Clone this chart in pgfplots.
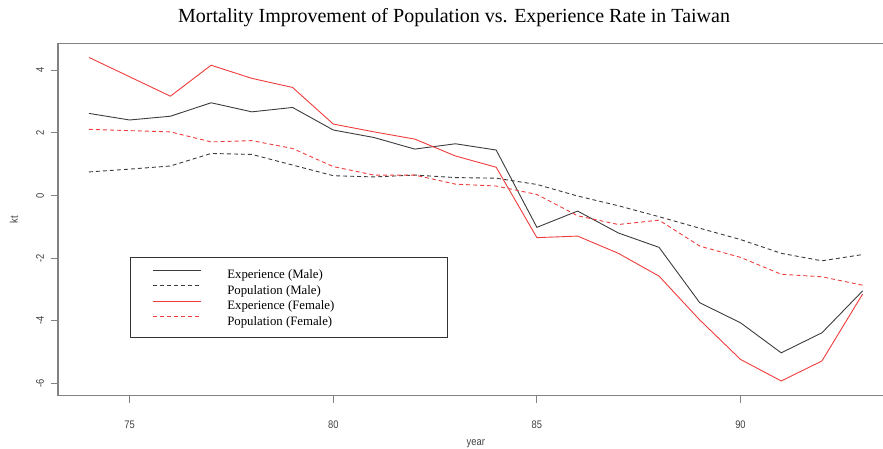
\documentclass[border=0pt]{standalone}
\usepackage{pgfplots}
\pgfplotsset{compat=1.18}
\usepackage{fontspec}
\setmainfont{Liberation Serif}
\newfontfamily\axfont[FakeStretch=0.85]{Liberation Sans}
\definecolor{axgray}{RGB}{130,130,130}
\definecolor{blk}{RGB}{60,60,60}
\definecolor{rd}{RGB}{240,60,60}
\begin{document}
\begin{tikzpicture}
\useasboundingbox (0,0) rectangle (883pt,448pt);
\clip (0,0) rectangle (883pt,448pt);
\begin{axis}[
  scale only axis,
  width=835.6pt, height=352.4pt,
  at={(58pt,52.3pt)}, anchor=south west,
  xmin=73.24, xmax=93.76,
  ymin=-6.40, ymax=4.86,
  xtick={75,80,85,90}, ytick={-6,-4,-2,0,2,4},
  xtick pos=bottom, ytick pos=left,
  tick align=outside, major tick length=7pt,
  axis line style={axgray, line width=1.5pt},
  tick style={axgray, line width=1pt},
  /pgf/number format/assume math mode=true,
  ticklabel style={font=\axfont\fontsize{11}{12}\selectfont, text=black!75},
  xticklabel style={anchor=center, yshift=-22pt},
  yticklabel style={rotate=90, anchor=center, yshift=11pt},
  xlabel={year}, ylabel={kt},
  label style={font=\axfont\fontsize{11}{12}\selectfont, text=black!75},
  xlabel style={at={(axis description cs:0.5,-0.137)}, anchor=center},
  ylabel style={at={(axis description cs:-0.0527,0.5)}, anchor=center, rotate=0},
  title={Mortality Improvement of Population vs. Experience Rate in Taiwan},
  title style={font=\fontsize{20}{22}\selectfont, at={(axis description cs:0.474,1.0548)}, anchor=center},
  legend style={at={(axis description cs:0.0862,0.393)}, anchor=north west,
    draw=black!80, line width=0.8pt, inner xsep=22pt, inner ysep=9pt,
    font=\fontsize{12.8}{14}\selectfont,
    nodes={inner sep=0pt, text height=12pt, text depth=3.5pt},
    /tikz/every odd column/.append style={column sep=26pt}},
  legend cell align=left,
  legend image code/.code={\draw[#1] (0pt,4pt) -- (48pt,4pt);},
]
\addplot[blk, line width=0.9pt] coordinates {
(74,2.62) (75,2.41) (76,2.53) (77,2.96) (78,2.67) (79,2.81) (80,2.09) (81,1.85) (82,1.48) (83,1.65)
(84,1.45) (85,-1.02) (86,-0.50) (87,-1.20) (88,-1.66) (89,-3.43) (90,-4.07) (91,-5.03) (92,-4.39) (93,-3.05)};
\addlegendentry{\makebox[198pt][l]{Experience (Male)}}
\addplot[blk, line width=0.9pt, dash pattern=on 4pt off 3pt] coordinates {
(74,0.75) (75,0.84) (76,0.94) (77,1.34) (78,1.31) (79,0.97) (80,0.63) (81,0.59) (82,0.65) (83,0.57)
(84,0.55) (85,0.35) (86,-0.02) (87,-0.33) (88,-0.68) (89,-1.05) (90,-1.41) (91,-1.85) (92,-2.09) (93,-1.89)};
\addlegendentry{Population (Male)}
\addplot[rd, line width=0.9pt] coordinates {
(74,4.41) (75,3.79) (76,3.17) (77,4.16) (78,3.74) (79,3.45) (80,2.28) (81,2.03) (82,1.80) (83,1.26)
(84,0.90) (85,-1.35) (86,-1.30) (87,-1.85) (88,-2.58) (89,-3.98) (90,-5.24) (91,-5.93) (92,-5.29) (93,-3.15)};
\addlegendentry{Experience (Female)}
\addplot[rd, line width=0.9pt, dash pattern=on 4pt off 3pt] coordinates {
(74,2.11) (75,2.07) (76,2.03) (77,1.71) (78,1.75) (79,1.50) (80,0.92) (81,0.65) (82,0.65) (83,0.36)
(84,0.30) (85,0.03) (86,-0.65) (87,-0.93) (88,-0.79) (89,-1.62) (90,-1.98) (91,-2.52) (92,-2.60) (93,-2.87)};
\addlegendentry{Population (Female)}
\end{axis}
\end{tikzpicture}
\end{document}
